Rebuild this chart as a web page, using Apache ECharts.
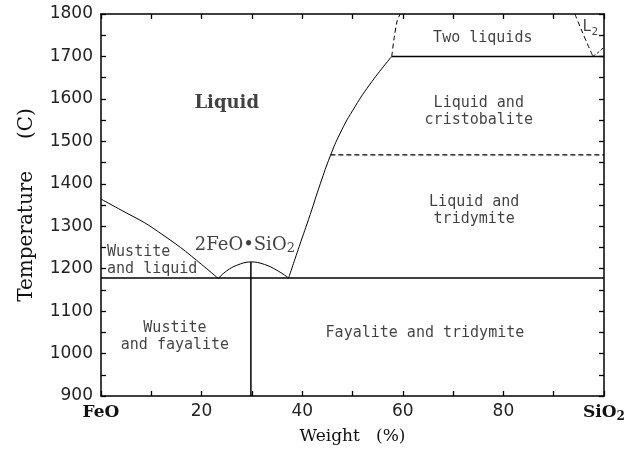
<!DOCTYPE html>
<html><head><meta charset="utf-8">
<script src="https://cdn.jsdelivr.net/npm/echarts@6/dist/echarts.min.js"></script>
<style>html,body{margin:0;padding:0;background:#fff}#c{width:628px;height:451px}</style>
</head><body><div id="c"></div>
<script>
// ---- data (weight % SiO2, temperature °C) ----
const liquidusFeO = [[0,1364],[4,1338],[8.7,1308],[12,1282],[15.8,1250],[20,1210],[23.3,1177]];
const fayaliteDome = [[23.3,1177],[25,1195],[27,1208],[29.8,1216],[32.5,1210],[35,1196],[37.3,1178]];
const liquidusSiO2 = [[37.3,1178],[39.4,1252],[41.6,1328],[43.6,1400],[45.6,1466],[47.5,1518],[50,1572],[53.5,1635],[57.8,1700]];
const eutecticLine = [[0,1178],[100,1178]];
const fayaliteLine = [[29.8,900],[29.8,1216]];
const tridymiteLine = [[45.6,1468],[100,1468]];
const monotecticLine = [[57.8,1700],[100,1700]];
const twoLiquidsLeft = [[57.8,1700],[58.3,1745],[58.9,1785],[59.5,1800]];
const twoLiquidsRight = [[94.2,1800],[95.6,1760],[96.8,1727],[97.8,1700]];
const l2Boundary = [[97.8,1700],[98.9,1710],[100,1722]];

const xLabelValues = [0,20,40,60,80,100];
const xLabelTexts = ['{b|FeO}','20','40','60','80','{b|SiO}{s|2}'];
const yLabelValues = [900,1000,1100,1200,1300,1400,1500,1600,1700,1800];

const regionNames = ['Liquid','Liquid and\ncristobalite','Liquid and\ntridymite','Two liquids','L2',
  'Wustite\nand liquid','2FeO•SiO2','Wustite\nand fayalite','Fayalite and tridymite'];
const regionX = [25, 75.1, 74.2, 75.9, 97.3, 1.2, 28.6, 14.7, 64.4];
const regionY = [1590, 1569, 1336, 1743, 1769, 1220, 1256, 1040, 1048];
const regionStyle = ['bold','mono','mono','mono','sub','monoLeft','sub','mono','mono'];

const ink = '#000';
const mono = {fontFamily:'DejaVu Sans Mono', fontSize:15, lineHeight:17, color:'#111'};
function labelFor(i){
  const s = regionStyle[i], t = regionNames[i];
  if (s === 'bold') return {show:true, position:'inside', formatter:t, fontFamily:'DejaVu Serif', fontWeight:'bold', fontSize:18, color:'#111'};
  if (s === 'sub') {
    const base = t.slice(0,-1), sub = t.slice(-1);
    const isL = t === 'L2';
    return {show:true, position:'inside', formatter:'{a|'+base+'}{s|'+sub+'}',
      rich:{a:{fontFamily: isL ? 'DejaVu Sans Mono' : 'DejaVu Serif', fontSize: isL?15:18, lineHeight:20, color:'#111'},
            s:{fontFamily: isL ? 'DejaVu Sans Mono' : 'DejaVu Serif', fontSize: isL?11:13, lineHeight:10, verticalAlign:'bottom', color:'#111'}}};
  }
  if (s === 'monoLeft') return Object.assign({show:true, position:'inside', align:'left', formatter:t}, mono);
  return Object.assign({show:true, position:'inside', align:'center', formatter:t}, mono);
}
const labelData = regionNames.map((n,i)=>({value:[regionX[i], regionY[i]], label:labelFor(i)}));

function lineSeries(data, opts){
  opts = opts || {};
  return {type:'line', data:data, showSymbol:false, silent:true, smooth:opts.smooth||false,
    lineStyle:{color:ink, width:opts.width||1, type:opts.type||'solid'}, z:3};
}

const axisCommonX = {type:'value', min:0, max:100, interval:10, splitLine:{show:false},
  axisLine:{show:true, onZero:false, lineStyle:{color:ink, width:1.5}},
  axisTick:{show:true, inside:true, length:5, lineStyle:{color:ink, width:1.3}}};
const axisCommonY = {type:'value', min:900, max:1800, interval:50, splitLine:{show:false},
  axisLine:{show:true, onZero:false, lineStyle:{color:ink, width:1.5}},
  axisTick:{show:true, inside:true, length:5, lineStyle:{color:ink, width:1.3}}};

const chart = echarts.init(document.getElementById('c'));
chart.setOption({
  animation:false,
  backgroundColor:'#fff',
  grid:{left:101, right:24, top:14, bottom:55},
  xAxis:[
    Object.assign({}, axisCommonX, {position:'bottom',
      name:'Weight   (%)', nameLocation:'middle', nameGap:29,
      nameTextStyle:{fontFamily:'DejaVu Serif', fontSize:17, color:'#111'},
      axisLabel:{margin:7, fontFamily:'DejaVu Sans', fontSize:17, color:'#222',
        formatter:v=>{const k=xLabelValues.indexOf(v); return k>=0?xLabelTexts[k]:'';},
        rich:{b:{fontFamily:'DejaVu Serif', fontWeight:'bold', fontSize:17, lineHeight:20, color:'#111'},
              s:{fontFamily:'DejaVu Serif', fontWeight:'bold', fontSize:12, lineHeight:10, verticalAlign:'bottom', color:'#111'}}}}),
    Object.assign({}, axisCommonX, {position:'top', axisLabel:{show:false}})
  ],
  yAxis:[
    Object.assign({}, axisCommonY, {position:'left',
      name:'Temperature     (C)', nameLocation:'middle', nameGap:64,
      nameTextStyle:{fontFamily:'DejaVu Serif', fontSize:20, color:'#111'},
      axisLabel:{margin:8, fontFamily:'DejaVu Sans', fontSize:17, color:'#222',
        formatter:v=> yLabelValues.indexOf(v)>=0 ? String(v) : ''}}),
    Object.assign({}, axisCommonY, {position:'right', axisLabel:{show:false}})
  ],
  series:[
    lineSeries(liquidusFeO, {smooth:0.3}),
    lineSeries(fayaliteDome, {smooth:0.4}),
    lineSeries(liquidusSiO2, {smooth:0.5}),
    lineSeries(eutecticLine, {width:1.5}),
    lineSeries(fayaliteLine, {width:1.5}),
    lineSeries(tridymiteLine, {type:[5,3], width:1.3}),
    lineSeries(monotecticLine, {width:1.5}),
    lineSeries(twoLiquidsLeft, {type:[5,3], smooth:0.3}),
    lineSeries(twoLiquidsRight, {type:[5,3], smooth:0.3}),
    lineSeries(l2Boundary, {type:[3,2], smooth:0.3}),
    {type:'scatter', data:labelData, symbolSize:1, itemStyle:{color:'rgba(0,0,0,0)'}, silent:true, z:5}
  ]
});
</script></body></html>
